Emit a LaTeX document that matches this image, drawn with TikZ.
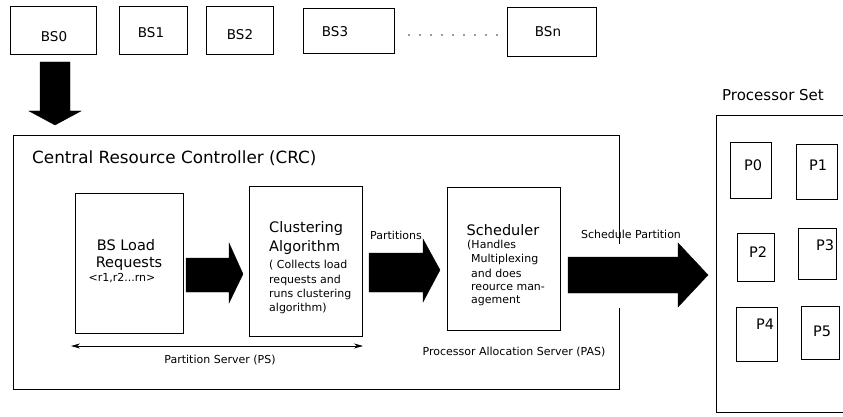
\documentclass[tikz,border=0pt]{standalone}
\usepackage{fontspec}
\setmainfont{DejaVu Sans}
\usetikzlibrary{arrows.meta}
\tikzset{
  box/.style={draw=black, line width=0.9pt, inner sep=0pt},
  big/.style={font=\fontsize{14.5}{17}\selectfont, inner sep=0pt},
  title/.style={font=\fontsize{16.8}{19}\selectfont, inner sep=0pt},
  mid/.style={font=\fontsize{13.5}{16}\selectfont, inner sep=0pt},
  small/.style={font=\fontsize{11}{13}\selectfont, inner sep=0pt},
  blockarrow/.style={fill=black, draw=black, line width=0.4pt},
  line/.style={draw=black, line width=0.9pt}
}
\newcommand{\bx}[5]{\node[box, minimum width=#4-#2, minimum height=#5-#3] (#1) at ({(#2+#4)/2},{(#3+#5)/2}) {};}
\begin{document}
\begin{tikzpicture}[x=1pt, y=-1pt]
\useasboundingbox (0,0) rectangle (843,417);
% top row
\bx{bs0}{10}{6}{96}{54}
\bx{bs1}{119}{6}{187}{54}
\bx{bs2}{206}{6}{273}{54}
\bx{bs3}{303}{8}{394}{53}
\bx{bsn}{507}{7}{596}{56}
\node[mid] (tbs0) at (54,37) {BS0};
\node[mid] (tbs1) at (151,33) {BS1};
\node[mid] (tbs2) at (240,35) {BS2};
\node[mid] (tbs3) at (335,32) {BS3};
\node[mid] (tbsn) at (548,32) {BSn};
\foreach \i in {0,...,8} { \fill[black!80] (409+\i*11,35) circle (0.85pt); }
% down arrow
\fill[blockarrow] (40,62) -- (70,62) -- (70,111) -- (81,111) -- (55,125) -- (29,111) -- (40,111) -- cycle;
% CRC box with gap on right
\draw[line] (619,244) -- (619,135) -- (13,135) -- (13,389) -- (619,389) -- (619,308);
\node[title, anchor=west] (crctitle) at (32,158) {Central Resource Controller (CRC)};
% BS load box
\bx{bsload}{75}{193}{183}{333}
\node[big] (bsl1) at (126,245) {BS Load};
\node[big] (bsl2) at (129,264) {Requests};
\node[small] (bsl3) at (122,278) {<r1,r2...rn>};
% arrow 1
\fill[blockarrow] (186,258) -- (229,258) -- (229,243) -- (243,274) -- (229,303) -- (229,292) -- (186,292) -- cycle;
% Clustering box
\bx{clus}{249}{186}{362}{336}
\node[big, anchor=west] (cl1) at (269,228) {Clustering};
\node[big, anchor=west] (cl2) at (269,247) {Algorithm};
\node[small, anchor=west] (cl3) at (269,265) {( Collects load};
\node[small, anchor=west] (cl4) at (269,280) {requests and};
\node[small, anchor=west] (cl5) at (269,294) {runs clustering};
\node[small, anchor=west] (cl6) at (269,308) {algorithm)};
% partition server arrow
\coordinate (psl) at (71,346);
\coordinate (psr) at (363,346);
\draw[line, line width=0.8pt, {Stealth[length=9pt,width=5pt]}-{Stealth[length=9pt,width=5pt]}] (psl) -- (psr);
\node[small] (pslabel) at (220,360) {Partition Server (PS)};
% partitions arrow
\node[small] (partlabel) at (396,235) {Partitions};
\fill[blockarrow] (369,253) -- (423,253) -- (423,239) -- (440,270) -- (423,302) -- (423,292) -- (369,292) -- cycle;
% Scheduler box
\bx{sched}{447}{187}{560}{330}
\node[big] (sc1) at (503,230) {Scheduler};
\node[small, anchor=west] (sc2) at (467,245) {(Handles};
\node[small, anchor=west] (sc3) at (471,259) {Multiplexing};
\node[small, anchor=west] (sc4) at (471,273) {and does};
\node[small, anchor=west] (sc5) at (471,287) {reource man-};
\node[small, anchor=west] (sc6) at (471,301) {agement};
\node[small] (paslabel) at (514,352) {Processor Allocation Server (PAS)};
% schedule partition arrow
\node[small] (splabel) at (631,234) {Schedule Partition};
\fill[blockarrow] (568,257) -- (678,257) -- (678,243) -- (708,275) -- (678,307) -- (678,293) -- (568,293) -- cycle;
% Processor set
\draw[line] (844,115) -- (716,115) -- (716,412) -- (844,412);
\node[font=\fontsize{15}{18}\selectfont, inner sep=0pt] (pslab) at (773,95) {Processor Set};
\bx{p0}{730}{142}{771}{198}
\bx{p1}{796}{144}{837}{199}
\bx{p2}{737}{233}{774}{281}
\bx{p3}{798}{228}{836}{279}
\bx{p4}{736}{307}{777}{361}
\bx{p5}{801}{306}{839}{359}
\node[big] (tp0) at (753,165) {P0};
\node[big] (tp1) at (818,165) {P1};
\node[big] (tp2) at (758,252) {P2};
\node[big] (tp3) at (825,245) {P3};
\node[big] (tp4) at (765,324) {P4};
\node[big] (tp5) at (822,331) {P5};
\end{tikzpicture}
\end{document}
